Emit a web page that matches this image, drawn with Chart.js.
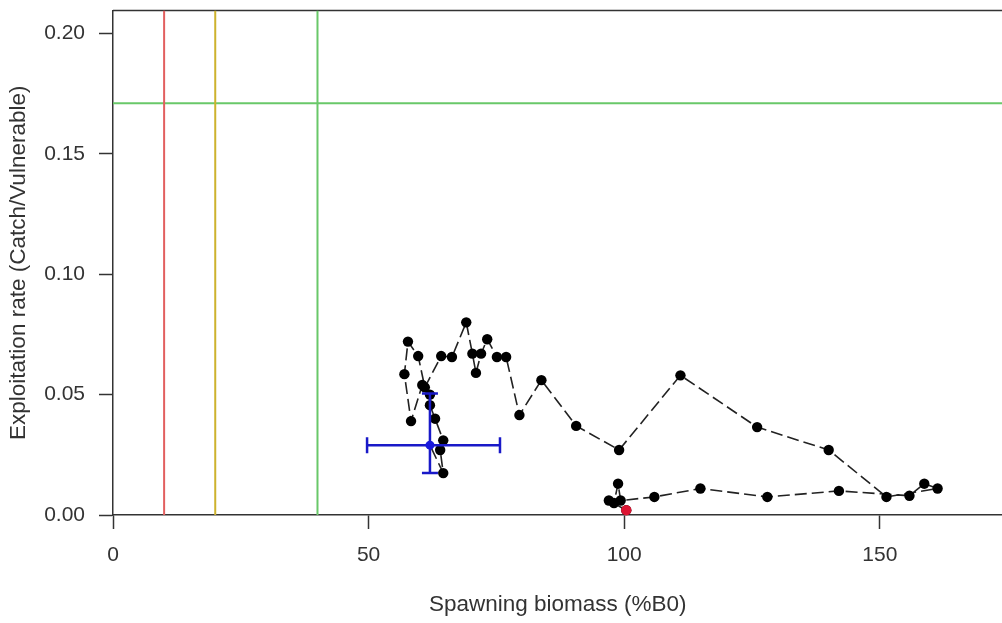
<!DOCTYPE html>
<html>
<head>
<meta charset="utf-8">
<script src="https://cdn.jsdelivr.net/npm/chart.js@4.4.1/dist/chart.umd.min.js"></script>
<style>
  html, body { margin: 0; padding: 0; background: #fff; overflow: hidden; width: 1002px; height: 623px; }
  #wrap { width: 1013px; height: 623px; position: relative; }
</style>
</head>
<body>
<div id="wrap"><canvas id="chart"></canvas></div>
<script>
// Eixos
const xTicks = [0, 50, 100, 150];
const xTickLabels = ["0", "50", "100", "150"];
const yTicks = [0, 0.05, 0.10, 0.15, 0.20];
const yTickLabels = ["0.00", "0.05", "0.10", "0.15", "0.20"];
const xMin = 0, xMax = 174;
const yMin = 0, yMax = 0.2095;

// Trajetória (ano a ano): biomassa desovante (%B0) e taxa de exploração
const biomass = [
  100.4, 97, 98, 98.8, 99.3, 105.9, 114.9, 128, 142, 155.8,
  158.7, 161.3, 151.3, 140, 126, 111, 99, 90.6, 83.8, 79.5,
  76.9, 75.1, 73.2, 72, 71, 70.3, 69.1, 66.3, 64.2, 61,
  59.7, 57.7, 57, 58.3, 60.5, 62, 62, 63, 64.6, 64,
  64.6, 62
];
const exploitation = [
  0.002, 0.006, 0.005, 0.013, 0.006, 0.0075, 0.011, 0.0075, 0.010, 0.008,
  0.013, 0.011, 0.0075, 0.027, 0.0365, 0.058, 0.027, 0.037, 0.056, 0.0415,
  0.0656, 0.0656, 0.073, 0.067, 0.059, 0.067, 0.080, 0.0656, 0.066, 0.053,
  0.066, 0.072, 0.0585, 0.039, 0.054, 0.050, 0.0456, 0.040, 0.031, 0.027,
  0.0174, 0.029
];

// Estimativa final com intervalos
const finalBiomass = 62;
const finalRate = 0.029;
const biomassCI = [49.7, 75.7];
const rateCI = [0.0174, 0.0505];

// Pontos de referência
const limitBiomass = [10, 20, 40];
const targetRate = 0.171;

const FONT = "'Liberation Sans', Arial, sans-serif";
const TEXT = "#333";
const refColors = ["rgb(226,95,95)", "rgb(205,178,45)", "rgb(105,200,105)"];

const points = biomass.map((b, i) => ({ x: b, y: exploitation[i] }));
const last = points.length - 1;

const datasets = [];

// linhas verticais de referência
limitBiomass.forEach((b, i) => {
  datasets.push({
    type: "line",
    data: [{ x: b, y: yMin }, { x: b, y: yMax }],
    borderColor: refColors[i],
    borderWidth: 2,
    pointRadius: 0,
    order: 10,
  });
});

// linha horizontal (alvo)
datasets.push({
  type: "line",
  data: [{ x: xMin, y: targetRate }, { x: xMax, y: targetRate }],
  borderColor: refColors[2],
  borderWidth: 2,
  pointRadius: 0,
  order: 10,
});

// trajetória
datasets.push({
  type: "line",
  data: points,
  borderColor: "#222",
  borderWidth: 1.6,
  borderDash: [12, 5],
  backgroundColor: "#000",
  pointBackgroundColor: "#000",
  pointBorderColor: "#000",
  pointRadius: (ctx) => (ctx.dataIndex === last ? 0 : 5.2),
  pointBorderWidth: 0,
  order: 5,
});

// primeiro ano (vermelho)
datasets.push({
  type: "line",
  data: [points[0]],
  pointBackgroundColor: "rgb(220,20,50)",
  pointBorderWidth: 0,
  pointRadius: 5.2,
  showLine: false,
  clip: false,
  order: 4,
});

// barras de erro (horizontal e vertical) com extremidades
datasets.push({
  type: "line",
  data: [{ x: biomassCI[0], y: finalRate }, { x: biomassCI[1], y: finalRate }],
  borderColor: "rgb(25,25,200)",
  borderWidth: 2.5,
  pointStyle: "line",
  pointRotation: 90,
  pointRadius: 8,
  pointBorderWidth: 2.5,
  pointBorderColor: "rgb(25,25,200)",
  order: 2,
});
datasets.push({
  type: "line",
  data: [{ x: finalBiomass, y: rateCI[0] }, { x: finalBiomass, y: rateCI[1] }],
  borderColor: "rgb(25,25,200)",
  borderWidth: 2.5,
  pointStyle: "line",
  pointRotation: 0,
  pointRadius: 8,
  pointBorderWidth: 2.5,
  pointBorderColor: "rgb(25,25,200)",
  order: 2,
});
datasets.push({
  type: "line",
  data: [{ x: finalBiomass, y: finalRate }],
  pointBackgroundColor: "rgb(25,25,220)",
  pointBorderWidth: 0,
  pointRadius: 4.5,
  showLine: false,
  order: 1,
});

// borda superior do quadro
const topBorder = {
  id: "topBorder",
  beforeDatasetsDraw(chart) {
    const { ctx, chartArea } = chart;
    ctx.save();
    ctx.strokeStyle = "#333";
    ctx.lineWidth = 1.5;
    ctx.beginPath();
    ctx.moveTo(chartArea.left, chartArea.top);
    ctx.lineTo(chartArea.right, chartArea.top);
    ctx.stroke();
    ctx.restore();
  },
};

// remove o espaço extra que o Chart.js reserva para os rótulos nas pontas
const noEdgePadding = (axis) => {
  axis.paddingTop = 0;
  axis.paddingBottom = 0;
  axis.paddingLeft = 0;
  axis.paddingRight = 0;
};

const ctx = document.querySelector("#chart").getContext("2d");
const chart = new Chart(ctx, {
  type: "scatter",
  data: { datasets },
  plugins: [topBorder],
  options: {
    responsive: true,
    maintainAspectRatio: false,
    animation: false,
    layout: { padding: { top: 10, right: 0, left: 0, bottom: 0 } },
    plugins: { legend: { display: false }, tooltip: { enabled: false } },
    scales: {
      x: {
        type: "linear",
        min: xMin,
        max: xMax,
        afterBuildTicks: (axis) => { axis.ticks = xTicks.map((v) => ({ value: v })); },
        afterFit: (axis) => { axis.height = 108; noEdgePadding(axis); },
        ticks: {
          autoSkip: false,
          maxRotation: 0,
          padding: 14,
          color: TEXT,
          font: { family: FONT, size: 21 },
          callback: (v) => xTickLabels[xTicks.indexOf(v)],
        },
        grid: { drawOnChartArea: false, drawTicks: true, tickLength: 14, tickColor: "#333", tickWidth: 1.5 },
        border: { display: true, color: "#333", width: 1.5 },
        title: {
          display: true,
          text: "Spawning biomass (%B0)",
          color: TEXT,
          font: { family: FONT, size: 22.5 },
          padding: { top: 0, bottom: 5 },
        },
      },
      y: {
        type: "linear",
        min: yMin,
        max: yMax,
        afterBuildTicks: (axis) => { axis.ticks = yTicks.map((v) => ({ value: v })); },
        afterFit: (axis) => { axis.width = 113; noEdgePadding(axis); },
        ticks: {
          autoSkip: false,
          padding: 14,
          color: TEXT,
          font: { family: FONT, size: 21 },
          callback: (v) => yTickLabels[yTicks.indexOf(v)],
        },
        grid: { drawOnChartArea: false, drawTicks: true, tickLength: 14, tickColor: "#333", tickWidth: 1.5 },
        border: { display: true, color: "#333", width: 1.5 },
        title: {
          display: true,
          text: "Exploitation rate (Catch/Vulnerable)",
          color: TEXT,
          font: { family: FONT, size: 22.5 },
          padding: { top: 5, bottom: 0 },
        },
      },
    },
  },
});
</script>
</body>
</html>
